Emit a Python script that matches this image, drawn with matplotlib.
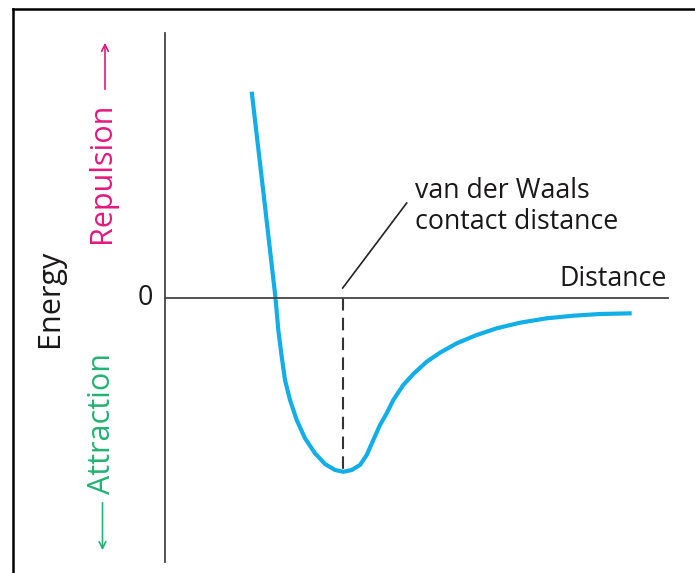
import matplotlib
matplotlib.use('Agg')
import matplotlib.pyplot as plt
from matplotlib.lines import Line2D

plt.rcParams['font.family'] = ['Open Sans', 'DejaVu Sans']

# potential energy curve (arbitrary units)
distance = [0.867, 0.987, 1.105, 1.133, 1.167, 1.20, 1.25, 1.317, 1.40, 1.50,
            1.60, 1.70, 1.783, 1.867, 1.95, 2.017, 2.083, 2.15, 2.217, 2.283,
            2.383, 2.483, 2.617, 2.75, 2.917, 3.117, 3.317, 3.55, 3.817, 4.083,
            4.35, 4.667]
energy = [2.063, 1.03, 0.0, -0.32, -0.587, -0.82, -1.02, -1.22, -1.403, -1.553,
          -1.66, -1.72, -1.738, -1.72, -1.67, -1.57, -1.42, -1.27, -1.153, -1.02,
          -0.87, -0.76, -0.637, -0.547, -0.453, -0.37, -0.303, -0.247, -0.203, -0.177,
          -0.16, -0.153]

vdw_distance = 1.777
vdw_energy = -1.72
label_lines = ['van der Waals', 'contact distance']

W, H = 695, 573
fig = plt.figure(figsize=(W / 100, H / 100), dpi=100)
ax = fig.add_axes([165 / W, 11 / H, 503 / W, 529 / H])

ax.plot(distance, energy, color='#12aee8', lw=3, solid_joinstyle='round',
        solid_capstyle='butt')
ax.plot([vdw_distance, vdw_distance], [0, vdw_energy], color='#333333', lw=1.5,
        dashes=(6, 3.5))

# leader line to the label
ax.plot([vdw_distance, vdw_distance + 0.64], [0.10, 0.95], color='#222222', lw=1.2)
txt = dict(fontsize=19.3, color='#1a1718')
ax.text(2.50, 1.003, label_lines[0], va='baseline', **txt)
ax.text(2.50, 0.687, label_lines[1], va='baseline', **txt)

ax.set_xlim(0, 5.03)
ax.set_ylim(-2.64, 2.65)
for s in ['top', 'right']:
    ax.spines[s].set_visible(False)
ax.spines['bottom'].set_position(('data', 0))
for s in ['left', 'bottom']:
    ax.spines[s].set_color('#444444')
    ax.spines[s].set_linewidth(1.3)
ax.set_xticks([])
ax.set_yticks([])
ax.patch.set_alpha(0)

ax.text(5.02, 0.12, 'Distance', ha='right', va='baseline', **txt)
ax.text(-0.20, 0.0, '0', ha='center', va='center', **txt)

vtxt = dict(fontsize=22, ha='center', va='center', rotation=90, clip_on=False)
ax.text(-1.15, 0.0, 'Energy', color='#1a1718', **vtxt)

pink = '#e5177f'
green = '#22b373'
ax.text(-0.63, 1.255, 'Repulsion', color=pink, **vtxt)
ax.annotate('', xy=(-0.60, 2.58), xytext=(-0.60, 2.06), annotation_clip=False,
            arrowprops=dict(arrowstyle='->', color=pink, lw=1.2, mutation_scale=12))
ax.text(-0.63, -1.255, 'Attraction', color=green, **vtxt)
ax.annotate('', xy=(-0.625, -2.55), xytext=(-0.625, -2.02), annotation_clip=False,
            arrowprops=dict(arrowstyle='->', color=green, lw=1.2, mutation_scale=12))

# frame of the original picture (left and top edges only)
fig.add_artist(Line2D([13 / W, 13 / W], [0, 1 - 9 / H], color='black', lw=1.8))
fig.add_artist(Line2D([13 / W, 1], [1 - 9 / H, 1 - 9 / H], color='black', lw=1.8))

fig.savefig('out.png', dpi=100)
